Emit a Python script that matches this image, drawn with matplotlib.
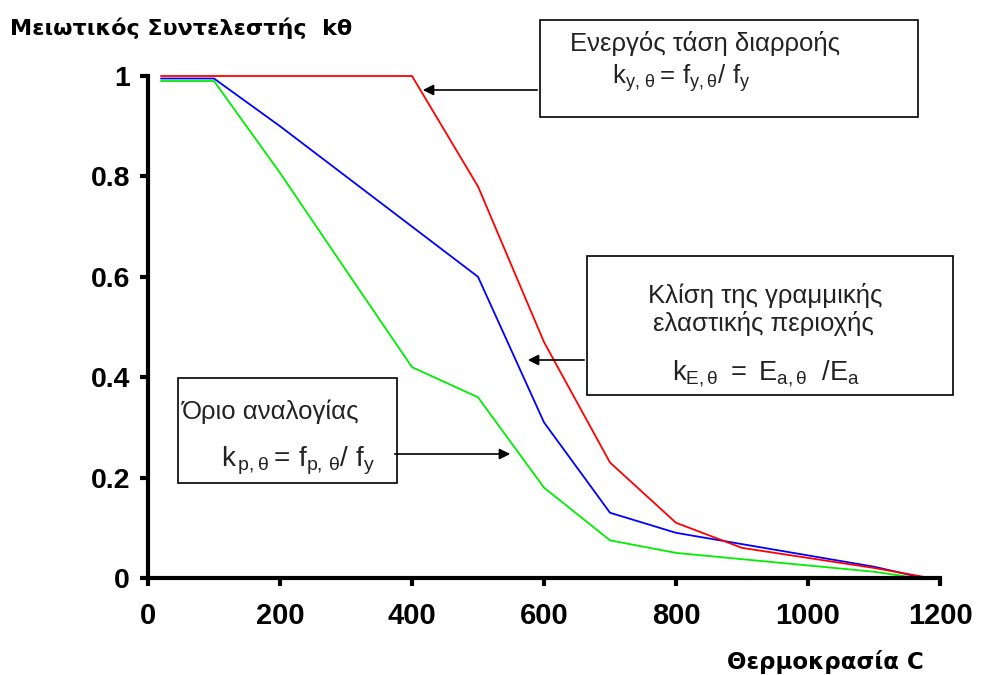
import matplotlib.pyplot as plt
import matplotlib as mpl

mpl.rcParams['mathtext.fontset'] = 'custom'
mpl.rcParams['mathtext.rm'] = 'Liberation Sans'
mpl.rcParams['mathtext.it'] = 'Liberation Sans'

# reduction factors
temp_y = [20, 100, 200, 300, 400, 500, 600, 700, 800, 900, 1000, 1100, 1185]
k_y = [1.0, 1.0, 1.0, 1.0, 1.0, 0.78, 0.47, 0.23, 0.11, 0.06, 0.04, 0.02, 0.0]

temp_E = [20, 100, 200, 300, 400, 500, 600, 700, 800, 900, 1000, 1100, 1175]
k_E = [0.995, 0.995, 0.9, 0.8, 0.7, 0.6, 0.31, 0.13, 0.09, 0.0675, 0.045, 0.0225, 0.0]

temp_p = [20, 100, 200, 300, 400, 500, 600, 700, 800, 900, 1000, 1100, 1165]
k_p = [0.99, 0.99, 0.807, 0.613, 0.42, 0.36, 0.18, 0.075, 0.05, 0.0375, 0.025, 0.0125, 0.0]

x_ticks = [0, 200, 400, 600, 800, 1000, 1200]
y_ticks = [0, 0.2, 0.4, 0.6, 0.8, 1]
y_ticklabels = ['0', '0.2', '0.4', '0.6', '0.8', '1']

fig = plt.figure(figsize=(9.81, 6.75), dpi=100)
ax = fig.add_axes([148/981, 97/675, 792/981, 502/675])

ax.plot(temp_p, k_p, color='#00ee00', lw=1.3, clip_on=False)
ax.plot(temp_E, k_E, color='#0000ff', lw=1.3, clip_on=False)
ax.plot(temp_y, k_y, color='#ff0000', lw=1.3, clip_on=False)

ax.set_xlim(0, 1200)
ax.set_ylim(0, 1)
ax.spines['top'].set_visible(False)
ax.spines['right'].set_visible(False)
ax.spines['left'].set_linewidth(3)
ax.spines['bottom'].set_linewidth(3)
ax.set_xticks(x_ticks)
ax.set_yticks(y_ticks)
ax.set_yticklabels(y_ticklabels)
ax.tick_params(direction='out', length=6, width=3)
ax.tick_params(axis='x', pad=11)
ax.tick_params(axis='y', pad=7)
for lab in ax.get_xticklabels():
    lab.set_fontfamily('Liberation Sans')
    lab.set_fontweight('bold')
    lab.set_fontsize(21)
for lab in ax.get_yticklabels():
    lab.set_fontfamily('Liberation Sans')
    lab.set_fontweight('bold')
    lab.set_fontsize(20.5)

fig.text(10/981, 1 - 28/675, 'Μειωτικός Συντελεστής  kθ', fontsize=16,
         fontweight='bold', va='center', ha='left')
fig.text(727/981, 1 - 662/675, 'Θερμοκρασία C', fontsize=16.5,
         fontweight='bold', va='center', ha='left')

tf = dict(fontfamily='Liberation Sans', fontsize=18.5, color='#222222')

# box 1 - yield strength
fig.patches.append(mpl.patches.Rectangle((540/981, 1 - 117/675), 378/981, 97/675,
                   transform=fig.transFigure, fill=False, ec='black', lw=1.2))
fig.text(570/981, 1 - 44/675, 'Ενεργός τάση διαρροής', va='center', **tf)
fig.text(612/981, 1 - 78/675, r'$\mathregular{k_{y,\,\theta}{=}\,f_{y,\theta}/\ f_y}$',
         va='center', **tf)
ax.annotate('', xy=(420/981, 1 - 90/675), xytext=(540/981, 1 - 90/675),
            xycoords='figure fraction', textcoords='figure fraction',
            arrowprops=dict(arrowstyle='-|>', color='black', lw=1.2, mutation_scale=16))

# box 2 - elastic modulus
fig.patches.append(mpl.patches.Rectangle((587/981, 1 - 395/675), 366/981, 139/675,
                   transform=fig.transFigure, fill=False, ec='black', lw=1.2))
fig.text(765/981, 1 - 295/675, 'Κλίση της γραμμικής', va='center', ha='center', **tf)
fig.text(763/981, 1 - 323/675, 'ελαστικής περιοχής', va='center', ha='center', **tf)
fig.text(672/981, 1 - 374/675, r'$\mathregular{k_{E,\theta}\ {=}\ E_{a,\theta}\ \ /E_a}$',
         va='center', fontfamily='Liberation Sans', fontsize=19.5, color='#222222')
ax.annotate('', xy=(525/981, 1 - 360/675), xytext=(587/981, 1 - 360/675),
            xycoords='figure fraction', textcoords='figure fraction',
            arrowprops=dict(arrowstyle='-|>', color='black', lw=1.2, mutation_scale=16))

# box 3 - proportional limit
fig.patches.append(mpl.patches.Rectangle((178/981, 1 - 483/675), 219/981, 105/675,
                   transform=fig.transFigure, fill=False, ec='black', lw=1.2))
fig.text(182/981, 1 - 412/675, 'Όριο αναλογίας', va='center', **tf)
fig.text(221/981, 1 - 461/675, r'$\mathregular{k_{\,p,\theta}{=}\,f_{p,\,\theta}/\ f_y}$',
         va='center', fontfamily='Liberation Sans', fontsize=20, color='#222222')
ax.annotate('', xy=(513/981, 1 - 454/675), xytext=(392/981, 1 - 454/675),
            xycoords='figure fraction', textcoords='figure fraction',
            arrowprops=dict(arrowstyle='-|>', color='black', lw=1.2, mutation_scale=16))

fig.savefig('out.png', dpi=100)
